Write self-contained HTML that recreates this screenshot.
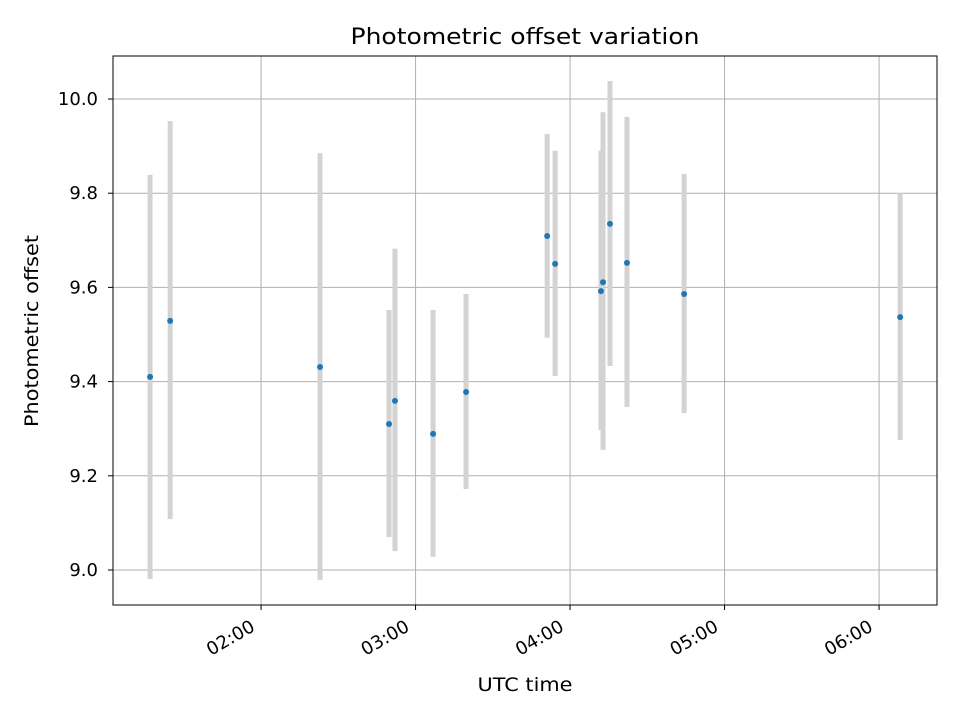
<!DOCTYPE html>
<html><head><meta charset="utf-8"><style>
body{margin:0;background:#fff;font-family:"Liberation Sans","DejaVu Sans",sans-serif}
svg text{font-family:"DejaVu Sans","Liberation Sans",sans-serif}
</style></head><body>
<svg id="c" width="960" height="720" xmlns="http://www.w3.org/2000/svg"></svg>
<script>
const times=[76.9,84.7,142.9,169.7,172.0,186.8,199.6,231.1,234.2,252.0,252.8,255.5,262.1,284.3,368.2];
const values=[9.410,9.529,9.431,9.310,9.359,9.289,9.378,9.709,9.650,9.592,9.611,9.735,9.652,9.586,9.537];
const errTop=[9.839,9.953,9.885,9.552,9.682,9.552,9.586,9.926,9.890,9.890,9.972,10.038,9.962,9.841,9.800];
const errBottom=[8.981,9.108,8.979,9.070,9.040,9.028,9.172,9.493,9.412,9.297,9.255,9.433,9.346,9.333,9.276];
const xTickMinutes=[120,180,240,300,360];
const xTickLabels=["02:00","03:00","04:00","05:00","06:00"];
const yTicks=[9.0,9.2,9.4,9.6,9.8,10.0];
const yTickLabels=["9.0","9.2","9.4","9.6","9.8","10.0"];
const L=113,R=937,T=56,B=605;
const X=m=>L+(m-62.5)/(382.5-62.5)*(R-L);
const Y=v=>570-(v-9.0)*471;
const svg=document.getElementById('c');const NS="http://www.w3.org/2000/svg";
function mk(t,a,p,txt){const e=document.createElementNS(NS,t);for(const k in a)e.setAttribute(k,a[k]);if(txt!==undefined)e.textContent=txt;(p||svg).appendChild(e);return e;}
let g=mk('g',{});


xTickMinutes.forEach(m=>mk('line',{x1:X(m),x2:X(m),y1:T,y2:B,stroke:'#b0b0b0','stroke-width':1},g));
yTicks.forEach(v=>mk('line',{x1:L,x2:R,y1:Y(v),y2:Y(v),stroke:'#b0b0b0','stroke-width':1},g));
let eg=mk('g',{});


times.forEach((t,i)=>{const l=mk('line',{x1:X(t),x2:X(t),y1:Y(errTop[i]),y2:Y(errBottom[i]),stroke:'#d3d3d3','stroke-width':5},eg);

});
let pg=mk('g',{});


times.forEach((t,i)=>{const c=mk('circle',{cx:X(t),cy:Y(values[i]),r:3,fill:'#1f77b4'},pg);

});
let f=mk('rect',{x:L,y:T,width:R-L,height:B-T,fill:'none',stroke:'#000','stroke-width':1});


xTickMinutes.forEach((m,i)=>{const x=X(m);mk('line',{x1:x,x2:x,y1:B,y2:B+5,stroke:'#000'});
const ax=x-5,ay=630;
const tx=mk('text',{x:ax,y:ay,'font-size':18,'text-anchor':'end',textLength:52,lengthAdjust:'spacingAndGlyphs',transform:`rotate(-30 ${ax} ${ay})`},svg,xTickLabels[i]);

});
yTicks.forEach((v,i)=>{const y=Y(v);mk('line',{x1:L-5,x2:L,y1:y,y2:y,stroke:'#000'});
const tx=mk('text',{x:L-15,y:y+6,'font-size':18,'text-anchor':'end'},svg,yTickLabels[i]);

});
let t1=mk('text',{x:525,y:44,'font-size':22,'text-anchor':'middle',textLength:349,lengthAdjust:'spacingAndGlyphs'},svg,'Photometric offset variation');


let t2=mk('text',{x:525,y:691,'font-size':19,'text-anchor':'middle',textLength:95,lengthAdjust:'spacingAndGlyphs'},svg,'UTC time');


let t3=mk('text',{x:38,y:331,'font-size':19,'text-anchor':'middle',textLength:192,lengthAdjust:'spacingAndGlyphs',transform:'rotate(-90 38 331)'},svg,'Photometric offset');


</script>
</body></html>
